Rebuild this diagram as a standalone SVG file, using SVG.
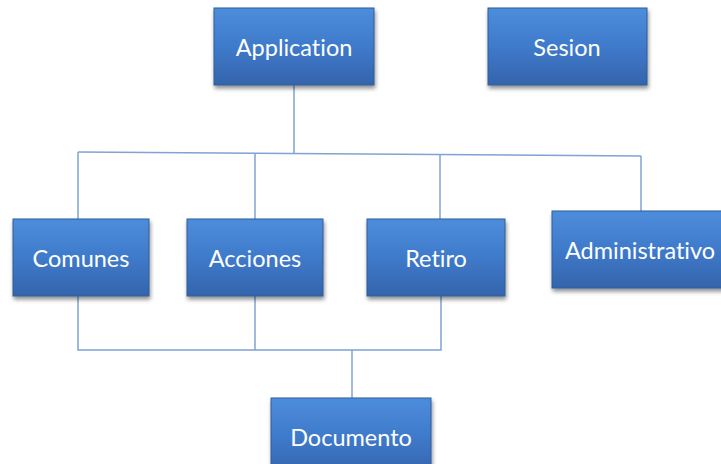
<svg xmlns="http://www.w3.org/2000/svg" width="721" height="464" viewBox="0 0 721 464">
<defs>
<linearGradient id="g" x1="0" y1="0" x2="0" y2="1">
<stop offset="0" stop-color="#4d8ddb"/>
<stop offset="0.5" stop-color="#3f7acb"/>
<stop offset="1" stop-color="#3464ab"/>
</linearGradient>
<filter id="sh" x="-10%" y="-10%" width="130%" height="130%">
<feGaussianBlur in="SourceAlpha" stdDeviation="2"/>
<feOffset dx="1" dy="3" result="b"/>
<feComponentTransfer><feFuncA type="linear" slope="0.45"/></feComponentTransfer>
<feMerge><feMergeNode/><feMergeNode in="SourceGraphic"/></feMerge>
</filter>
</defs>
<style>
.box{fill:url(#g);stroke:#2f5c99;stroke-width:1;filter:url(#sh)}
.t{fill:#ffffff;font-family:Lato,"Open Sans",sans-serif;font-size:23.5px;text-anchor:middle;dominant-baseline:central;font-variant-ligatures:none}
.c{stroke:#7ea3d4;stroke-width:1.5;fill:none}
</style>
<rect width="721" height="464" fill="#ffffff"/>
<g id="connectors">
<path class="c" d="M294 85 V153"/>
<path class="c" d="M78 152 L641 156"/>
<path class="c" d="M78 152 V219"/>
<path class="c" d="M255 153 V219"/>
<path class="c" d="M440 155 V219"/>
<path class="c" d="M641 156 V211"/>
<path class="c" d="M78 296 V350 H441 V296"/>
<path class="c" d="M255 296 V350"/>
<path class="c" d="M352 350 V398"/>
</g>
<g id="application"><rect class="box" x="214" y="8" width="160" height="77"/><text class="t" x="294" y="47">Application</text></g>
<g id="sesion"><rect class="box" x="488" y="8" width="159" height="77"/><text class="t" x="567" y="47">Sesion</text></g>
<g id="comunes"><rect class="box" x="13" y="219" width="136" height="77"/><text class="t" x="81" y="258">Comunes</text></g>
<g id="acciones"><rect class="box" x="187" y="219" width="136" height="77"/><text class="t" x="255" y="258">Acciones</text></g>
<g id="retiro"><rect class="box" x="367" y="219" width="138" height="77"/><text class="t" x="436" y="258">Retiro</text></g>
<g id="administrativo"><rect class="box" x="552" y="211" width="172" height="77"/><text class="t" x="640" y="250">Administrativo</text></g>
<g id="documento"><rect class="box" x="271" y="398" width="160" height="77"/><text class="t" x="351" y="437">Documento</text></g>
</svg>
